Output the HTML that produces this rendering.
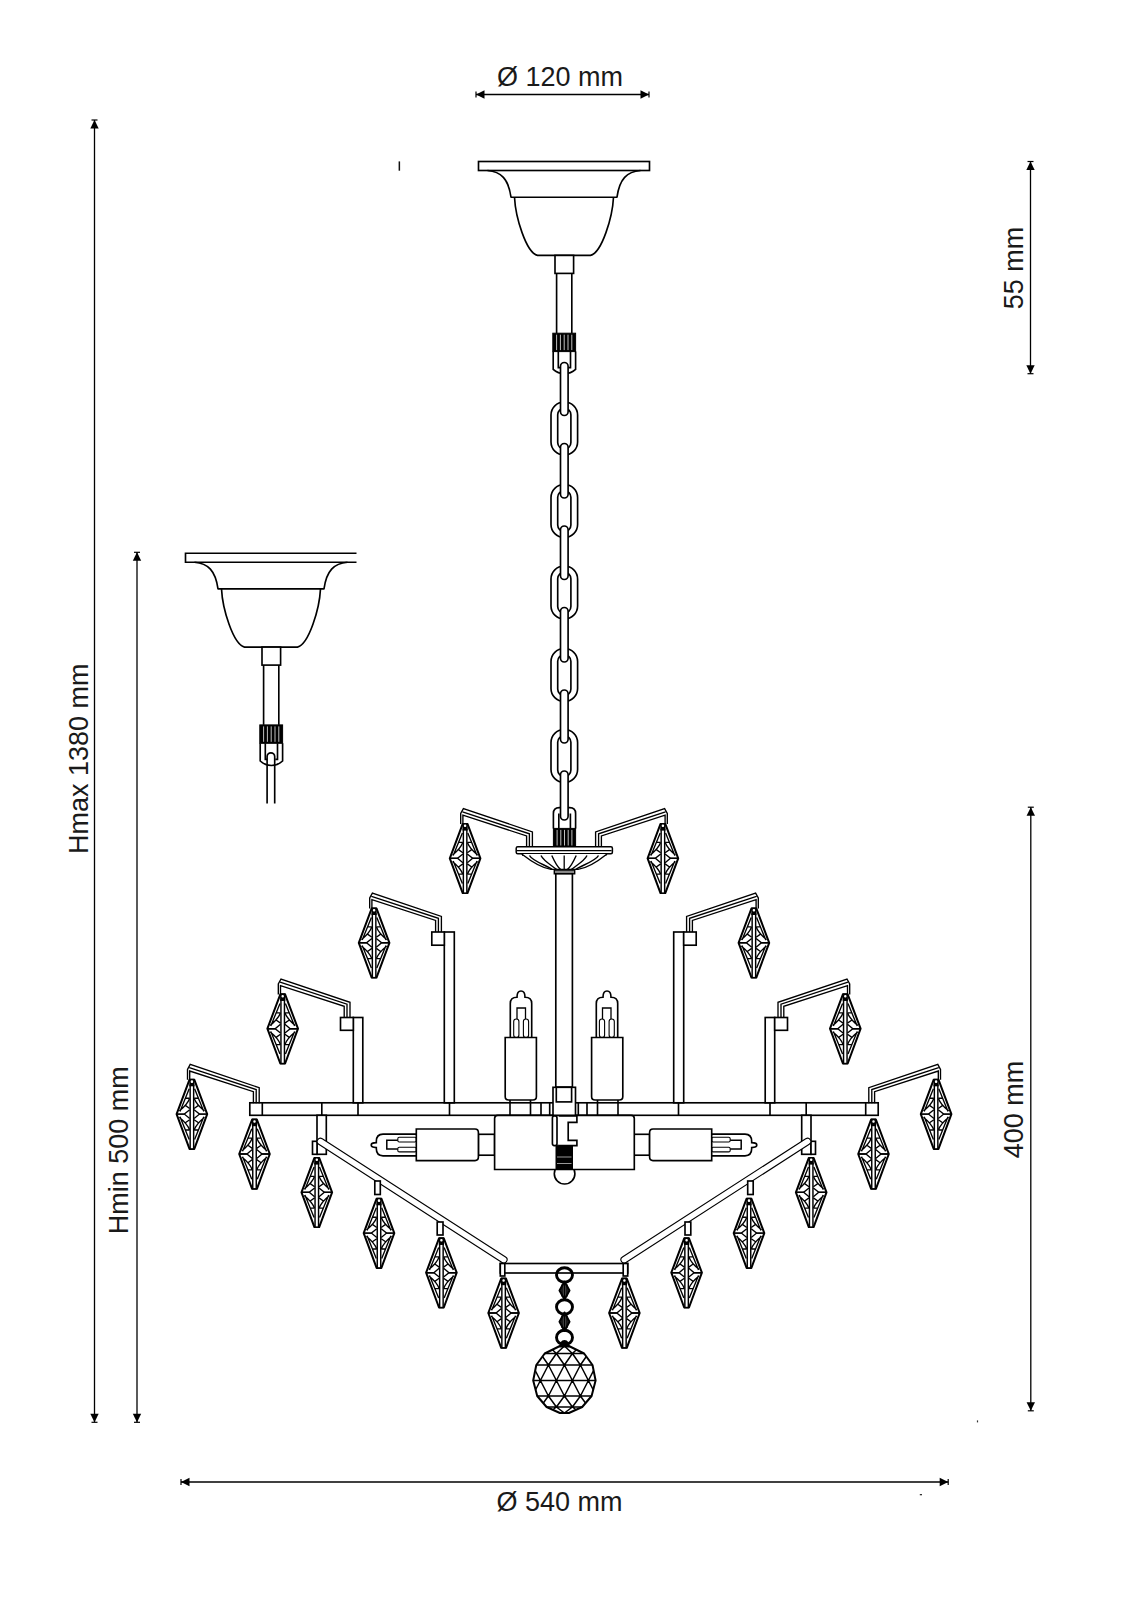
<!DOCTYPE html>
<html><head><meta charset="utf-8"><style>html,body{margin:0;padding:0;background:#fff;}svg{display:block;}</style></head>
<body><svg width="1131" height="1600" viewBox="0 0 1131 1600">
<defs><g id="pend"><path d="M-2.4,0.9 L2.4,0.9 L15.3,35.3 L2.4,70.1 L-2.4,70.1 L-15.3,35.3 Z" fill="#fff" stroke="#000" stroke-width="2.0" stroke-linejoin="round"/><path d="M-2.7,10.0 L-11.9,32.6 M-6.9,19.4 L-2.2,19.4 M-2.3,19.6 Q-4.5,25.5 -12.6,32.2 M-6.6,26.6 L-2.2,29.7 M-14.8,35.3 L-7.6,35.3 L-2.2,30.9" fill="none" stroke="#000" stroke-width="1.35"/><path d="M-2.7,10.0 L-11.9,32.6 M-6.9,19.4 L-2.2,19.4 M-2.3,19.6 Q-4.5,25.5 -12.6,32.2 M-6.6,26.6 L-2.2,29.7 M-14.8,35.3 L-7.6,35.3 L-2.2,30.9" fill="none" stroke="#000" stroke-width="1.35" transform="scale(-1,1)"/><path d="M-2.7,10.0 L-11.9,32.6 M-6.9,19.4 L-2.2,19.4 M-2.3,19.6 Q-4.5,25.5 -12.6,32.2 M-6.6,26.6 L-2.2,29.7 M-14.8,35.3 L-7.6,35.3 L-2.2,30.9" fill="none" stroke="#000" stroke-width="1.35" transform="translate(0,70.6) scale(1,-1)"/><path d="M-2.7,10.0 L-11.9,32.6 M-6.9,19.4 L-2.2,19.4 M-2.3,19.6 Q-4.5,25.5 -12.6,32.2 M-6.6,26.6 L-2.2,29.7 M-14.8,35.3 L-7.6,35.3 L-2.2,30.9" fill="none" stroke="#000" stroke-width="1.35" transform="translate(0,70.6) scale(-1,-1)"/><rect x="-1.75" y="6.5" width="3.5" height="63.6" fill="#fff" stroke="#000" stroke-width="1.45"/><rect x="-2.6" y="0" width="5.2" height="7.5" fill="#000"/><rect x="-1.2" y="1.5" width="2.4" height="2.6" rx="1" fill="#fff"/></g></defs>
<rect width="1131" height="1600" fill="#fff"/>
<line x1="476.00" y1="94.50" x2="649.00" y2="94.50" stroke="#000" stroke-width="1.30"/><path d="M476.0,94.5 L484.5,90.3 L484.5,98.7 Z" fill="#000"/><line x1="476.00" y1="91.50" x2="476.00" y2="97.50" stroke="#000" stroke-width="1.20"/><path d="M649.0,94.5 L640.5,90.3 L640.5,98.7 Z" fill="#000"/><line x1="649.00" y1="91.50" x2="649.00" y2="97.50" stroke="#000" stroke-width="1.20"/><line x1="94.50" y1="120.00" x2="94.50" y2="1422.30" stroke="#000" stroke-width="1.30"/><path d="M94.5,120.0 L90.3,128.5 L98.7,128.5 Z" fill="#000"/><line x1="91.50" y1="120.00" x2="97.50" y2="120.00" stroke="#000" stroke-width="1.20"/><path d="M94.5,1422.3 L90.3,1413.8 L98.7,1413.8 Z" fill="#000"/><line x1="91.50" y1="1422.30" x2="97.50" y2="1422.30" stroke="#000" stroke-width="1.20"/><line x1="137.00" y1="552.30" x2="137.00" y2="1422.30" stroke="#000" stroke-width="1.30"/><path d="M137.0,552.3 L132.8,560.8 L141.2,560.8 Z" fill="#000"/><line x1="134.00" y1="552.30" x2="140.00" y2="552.30" stroke="#000" stroke-width="1.20"/><path d="M137.0,1422.3 L132.8,1413.8 L141.2,1413.8 Z" fill="#000"/><line x1="134.00" y1="1422.30" x2="140.00" y2="1422.30" stroke="#000" stroke-width="1.20"/><line x1="1030.50" y1="161.50" x2="1030.50" y2="373.70" stroke="#000" stroke-width="1.30"/><path d="M1030.5,161.5 L1026.3,170.0 L1034.7,170.0 Z" fill="#000"/><line x1="1027.50" y1="161.50" x2="1033.50" y2="161.50" stroke="#000" stroke-width="1.20"/><path d="M1030.5,373.7 L1026.3,365.2 L1034.7,365.2 Z" fill="#000"/><line x1="1027.50" y1="373.70" x2="1033.50" y2="373.70" stroke="#000" stroke-width="1.20"/><line x1="1030.80" y1="807.20" x2="1030.80" y2="1410.80" stroke="#000" stroke-width="1.30"/><path d="M1030.8,807.2 L1026.6,815.7 L1035.0,815.7 Z" fill="#000"/><line x1="1027.80" y1="807.20" x2="1033.80" y2="807.20" stroke="#000" stroke-width="1.20"/><path d="M1030.8,1410.8 L1026.6,1402.3 L1035.0,1402.3 Z" fill="#000"/><line x1="1027.80" y1="1410.80" x2="1033.80" y2="1410.80" stroke="#000" stroke-width="1.20"/><line x1="181.00" y1="1482.00" x2="948.20" y2="1482.00" stroke="#000" stroke-width="1.30"/><path d="M181.0,1482.0 L189.5,1477.8 L189.5,1486.2 Z" fill="#000"/><line x1="181.00" y1="1479.00" x2="181.00" y2="1485.00" stroke="#000" stroke-width="1.20"/><path d="M948.2,1482.0 L939.7,1477.8 L939.7,1486.2 Z" fill="#000"/><line x1="948.20" y1="1479.00" x2="948.20" y2="1485.00" stroke="#000" stroke-width="1.20"/><text x="560" y="86.2" text-anchor="middle" font-family="Liberation Sans, sans-serif" font-size="27" fill="#1a1a1a">Ø 120 mm</text><text x="559.5" y="1510.5" text-anchor="middle" font-family="Liberation Sans, sans-serif" font-size="27" fill="#1a1a1a">Ø 540 mm</text><text transform="translate(87.8,758.8) rotate(-90)" text-anchor="middle" font-family="Liberation Sans, sans-serif" font-size="27" fill="#1a1a1a">Hmax 1380 mm</text><text transform="translate(127.8,1150.3) rotate(-90)" text-anchor="middle" font-family="Liberation Sans, sans-serif" font-size="27" fill="#1a1a1a">Hmin 500 mm</text><text transform="translate(1022.6,268) rotate(-90)" text-anchor="middle" font-family="Liberation Sans, sans-serif" font-size="27" fill="#1a1a1a">55 mm</text><text transform="translate(1023,1109.6) rotate(-90)" text-anchor="middle" font-family="Liberation Sans, sans-serif" font-size="27" fill="#1a1a1a">400 mm</text><rect x="398.6" y="161.4" width="1.5" height="9.3" fill="#111"/><rect x="976.9" y="1420.4" width="1.2" height="2" fill="#333"/><rect x="919.8" y="1494.0" width="2.2" height="1.3" fill="#333"/>
<g transform="translate(-293,391.7)"><path d="M649.5,161.5 L478.5,161.5 L478.5,170.5 L649.5,170.5" fill="none" stroke="#000" stroke-width="1.65"/><path d="M487.5,170.5 C501,171.5 508.5,179 511,197.2 M640.5,170.5 C627,171.5 619.5,179 617,197.2 M510.5,197.2 L617.5,197.2" fill="none" stroke="#000" stroke-width="1.65"/><path d="M514.5,197.2 C515.5,217 526,252.5 537.5,255.4 L590.5,255.4 C602,252.5 612.5,217 613.5,197.2" fill="none" stroke="#000" stroke-width="1.65"/><rect x="555.00" y="255.40" width="18.60" height="18.00" rx="0.0" fill="#fff" stroke="#000" stroke-width="1.65"/><line x1="556.60" y1="273.40" x2="556.60" y2="333.20" stroke="#000" stroke-width="1.65"/><line x1="571.80" y1="273.40" x2="571.80" y2="333.20" stroke="#000" stroke-width="1.65"/><rect x="552.80" y="333.20" width="22.80" height="18.40" rx="0.0" fill="#000" stroke="#000" stroke-width="1.00"/><line x1="556.60" y1="334.70" x2="556.60" y2="350.10" stroke="#fff" stroke-width="0.75"/><line x1="560.40" y1="334.70" x2="560.40" y2="350.10" stroke="#fff" stroke-width="0.75"/><line x1="564.20" y1="334.70" x2="564.20" y2="350.10" stroke="#fff" stroke-width="0.75"/><line x1="568.00" y1="334.70" x2="568.00" y2="350.10" stroke="#fff" stroke-width="0.75"/><line x1="571.80" y1="334.70" x2="571.80" y2="350.10" stroke="#fff" stroke-width="0.75"/><path d="M553.2,351.6 L553.2,369.3 Q558,373.6 564.4,373.8 Q570.8,373.6 575.6,369.3 L575.6,351.6" fill="none" stroke="#000" stroke-width="1.65"/><path d="M558.3,351.6 L558.3,367.6 L560.5,367.6 M570.5,351.6 L570.5,367.6 L568.3,367.6" fill="none" stroke="#000" stroke-width="1.65"/></g><path d="M267.1,803.5 L267.1,756.6 A3.8,3.8 0 0 1 274.7,756.6 L274.7,803.5" fill="none" stroke="#000" stroke-width="1.65"/>
<rect x="478.50" y="161.50" width="171.00" height="9.00" rx="0.0" fill="#fff" stroke="#000" stroke-width="1.65"/><path d="M487.5,170.5 C501,171.5 508.5,179 511,197.2 M640.5,170.5 C627,171.5 619.5,179 617,197.2 M510.5,197.2 L617.5,197.2" fill="none" stroke="#000" stroke-width="1.65"/><path d="M514.5,197.2 C515.5,217 526,252.5 537.5,255.4 L590.5,255.4 C602,252.5 612.5,217 613.5,197.2" fill="none" stroke="#000" stroke-width="1.65"/><rect x="555.00" y="255.40" width="18.60" height="18.00" rx="0.0" fill="#fff" stroke="#000" stroke-width="1.65"/><line x1="556.60" y1="273.40" x2="556.60" y2="333.20" stroke="#000" stroke-width="1.65"/><line x1="571.80" y1="273.40" x2="571.80" y2="333.20" stroke="#000" stroke-width="1.65"/><rect x="552.80" y="333.20" width="22.80" height="18.40" rx="0.0" fill="#000" stroke="#000" stroke-width="1.00"/><line x1="556.60" y1="334.70" x2="556.60" y2="350.10" stroke="#fff" stroke-width="0.75"/><line x1="560.40" y1="334.70" x2="560.40" y2="350.10" stroke="#fff" stroke-width="0.75"/><line x1="564.20" y1="334.70" x2="564.20" y2="350.10" stroke="#fff" stroke-width="0.75"/><line x1="568.00" y1="334.70" x2="568.00" y2="350.10" stroke="#fff" stroke-width="0.75"/><line x1="571.80" y1="334.70" x2="571.80" y2="350.10" stroke="#fff" stroke-width="0.75"/><path d="M553.2,351.6 L553.2,369.3 Q558,373.6 564.4,373.8 Q570.8,373.6 575.6,369.3 L575.6,351.6" fill="none" stroke="#000" stroke-width="1.65"/><path d="M558.3,351.6 L558.3,367.6 L560.5,367.6 M570.5,351.6 L570.5,367.6 L568.3,367.6" fill="none" stroke="#000" stroke-width="1.65"/>
<path d="M553.4,828.4 L553.4,813.5 Q553.4,807.6 559.3,807.6 L569.7,807.6 Q575.6,807.6 575.6,813.5 L575.6,828.4" fill="#fff" stroke="#000" stroke-width="1.65"/><line x1="558.80" y1="813.50" x2="558.80" y2="828.40" stroke="#000" stroke-width="1.65"/><line x1="570.40" y1="813.50" x2="570.40" y2="828.40" stroke="#000" stroke-width="1.65"/>
<rect x="551.00" y="402.00" width="26.6" height="53" rx="13" fill="#fff" stroke="#000" stroke-width="1.65"/><rect x="557.70" y="408.20" width="13.2" height="41" rx="6.6" fill="#fff" stroke="#000" stroke-width="1.65"/><rect x="551.00" y="484.50" width="26.6" height="53" rx="13" fill="#fff" stroke="#000" stroke-width="1.65"/><rect x="557.70" y="490.70" width="13.2" height="41" rx="6.6" fill="#fff" stroke="#000" stroke-width="1.65"/><rect x="551.00" y="566.00" width="26.6" height="53" rx="13" fill="#fff" stroke="#000" stroke-width="1.65"/><rect x="557.70" y="572.20" width="13.2" height="41" rx="6.6" fill="#fff" stroke="#000" stroke-width="1.65"/><rect x="551.00" y="648.50" width="26.6" height="53" rx="13" fill="#fff" stroke="#000" stroke-width="1.65"/><rect x="557.70" y="654.70" width="13.2" height="41" rx="6.6" fill="#fff" stroke="#000" stroke-width="1.65"/><rect x="551.00" y="729.50" width="26.6" height="53" rx="13" fill="#fff" stroke="#000" stroke-width="1.65"/><rect x="557.70" y="735.70" width="13.2" height="41" rx="6.6" fill="#fff" stroke="#000" stroke-width="1.65"/><rect x="560.50" y="362.50" width="7.60" height="53.00" rx="3.80" fill="#fff" stroke="#000" stroke-width="1.65"/><rect x="560.50" y="443.50" width="7.60" height="54.50" rx="3.80" fill="#fff" stroke="#000" stroke-width="1.65"/><rect x="560.50" y="526.00" width="7.60" height="53.50" rx="3.80" fill="#fff" stroke="#000" stroke-width="1.65"/><rect x="560.50" y="607.50" width="7.60" height="54.50" rx="3.80" fill="#fff" stroke="#000" stroke-width="1.65"/><rect x="560.50" y="690.00" width="7.60" height="53.00" rx="3.80" fill="#fff" stroke="#000" stroke-width="1.65"/><rect x="560.50" y="771.00" width="7.60" height="49.00" rx="3.80" fill="#fff" stroke="#000" stroke-width="1.65"/>
<rect x="249.80" y="1102.80" width="628.40" height="12.50" rx="0.0" fill="#fff" stroke="#000" stroke-width="1.65"/><line x1="262.30" y1="1102.80" x2="262.30" y2="1115.30" stroke="#000" stroke-width="1.65"/><line x1="865.70" y1="1102.80" x2="865.70" y2="1115.30" stroke="#000" stroke-width="1.65"/><line x1="321.80" y1="1102.80" x2="321.80" y2="1115.30" stroke="#000" stroke-width="1.65"/><line x1="806.20" y1="1102.80" x2="806.20" y2="1115.30" stroke="#000" stroke-width="1.65"/><line x1="358.00" y1="1102.80" x2="358.00" y2="1115.30" stroke="#000" stroke-width="1.65"/><line x1="770.00" y1="1102.80" x2="770.00" y2="1115.30" stroke="#000" stroke-width="1.65"/><line x1="449.50" y1="1102.80" x2="449.50" y2="1115.30" stroke="#000" stroke-width="1.65"/><line x1="678.50" y1="1102.80" x2="678.50" y2="1115.30" stroke="#000" stroke-width="1.65"/>
<path d="M532.4,847.5 L532.4,831.9 L463.4,808.6 L460.7,813.5 L460.7,824.0 M529.4,847.5 L529.4,833.8 L462.5,811.8 M526.6,847.5 L526.6,835.9 L462.9,815.2 L462.9,824.0" fill="none" stroke="#000" stroke-width="1.35" stroke-linejoin="miter"/><use href="#pend" x="465.1" y="823.0"/><path d="M441.4,932.0 L441.4,916.4 L372.4,893.1 L369.7,898.0 L369.7,908.5 M438.4,932.0 L438.4,918.3 L371.5,896.3 M435.6,932.0 L435.6,920.4 L371.9,899.7 L371.9,908.5" fill="none" stroke="#000" stroke-width="1.35" stroke-linejoin="miter"/><use href="#pend" x="374.1" y="907.5"/><path d="M350.0,1017.9 L350.0,1002.3 L281.0,979.0 L278.3,983.9 L278.3,994.4 M347.0,1017.9 L347.0,1004.2 L280.1,982.2 M344.2,1017.9 L344.2,1006.3 L280.5,985.6 L280.5,994.4" fill="none" stroke="#000" stroke-width="1.35" stroke-linejoin="miter"/><use href="#pend" x="282.7" y="993.4"/><path d="M259.2,1103.3 L259.2,1087.7 L190.2,1064.4 L187.5,1069.3 L187.5,1079.8 M256.2,1103.3 L256.2,1089.6 L189.3,1067.6 M253.4,1103.3 L253.4,1091.7 L189.7,1071.0 L189.7,1079.8" fill="none" stroke="#000" stroke-width="1.35" stroke-linejoin="miter"/><use href="#pend" x="191.9" y="1078.8"/><rect x="444.30" y="932.00" width="10.00" height="170.80" rx="0.0" fill="#fff" stroke="#000" stroke-width="1.65"/><rect x="431.80" y="932.00" width="12.50" height="13.20" rx="0.0" fill="#fff" stroke="#000" stroke-width="1.65"/><rect x="353.30" y="1017.50" width="9.50" height="85.30" rx="0.0" fill="#fff" stroke="#000" stroke-width="1.65"/><rect x="340.50" y="1017.50" width="12.80" height="12.80" rx="0.0" fill="#fff" stroke="#000" stroke-width="1.65"/><rect x="317.00" y="1115.30" width="9.30" height="39.00" rx="0.0" fill="#fff" stroke="#000" stroke-width="1.65"/><rect x="312.50" y="1141.30" width="4.50" height="13.00" rx="0.0" fill="#fff" stroke="#000" stroke-width="1.65"/><line x1="320.5" y1="1141.5" x2="503.8" y2="1259.8" stroke="#000" stroke-width="7.6" stroke-linecap="round"/><line x1="320.5" y1="1141.5" x2="503.8" y2="1259.8" stroke="#fff" stroke-width="5.4" stroke-linecap="round"/><rect x="374.80" y="1181.00" width="5.50" height="13.50" rx="0.0" fill="#fff" stroke="#000" stroke-width="1.65"/><rect x="437.20" y="1222.00" width="5.80" height="13.00" rx="0.0" fill="#fff" stroke="#000" stroke-width="1.65"/><use href="#pend" x="254.5" y="1118.7"/><use href="#pend" x="316.8" y="1157.0"/><use href="#pend" x="379.0" y="1197.8"/><use href="#pend" x="441.4" y="1237.4"/><use href="#pend" x="503.6" y="1277.7"/><path d="M510.3,1037.5 L510.3,1003.5 Q510.3,997.2 517,997.2 Q517,991 521,991 Q525,991 525,997.2 Q531.7,997.2 531.7,1003.5 L531.7,1037.5" fill="#fff" stroke="#000" stroke-width="1.65"/><path d="M517,1019 L517,1008 L525.5,1008 L525.5,1019" fill="none" stroke="#000" stroke-width="1.30"/><rect x="513.7" y="1019" width="5.2" height="18.5" rx="2.6" fill="#fff" stroke="#000" stroke-width="1.1"/><rect x="523.4" y="1019" width="5.2" height="18.5" rx="2.6" fill="#fff" stroke="#000" stroke-width="1.1"/><path d="M505.2,1037.5 L536.4,1037.5 L536.4,1096.5 Q536.4,1100 533,1100 L508.6,1100 Q505.2,1100 505.2,1096.5 Z" fill="#fff" stroke="#000" stroke-width="1.65"/><line x1="510.00" y1="1100.00" x2="510.00" y2="1118.00" stroke="#000" stroke-width="1.60"/><line x1="530.50" y1="1100.00" x2="530.50" y2="1115.30" stroke="#000" stroke-width="1.65"/><line x1="541.00" y1="1102.80" x2="541.00" y2="1118.00" stroke="#000" stroke-width="1.65"/><line x1="549.70" y1="1102.80" x2="549.70" y2="1115.30" stroke="#000" stroke-width="1.65"/><path d="M416.3,1134.1 L383,1134.1 Q376.3,1134.1 376.3,1141.5 L376.3,1142.6 Q371.2,1142.6 371.2,1145.1 Q371.2,1147.6 376.3,1147.6 L376.3,1148.6 Q376.3,1155.8 383,1155.8 L416.3,1155.8" fill="#fff" stroke="#000" stroke-width="1.65"/><rect x="397.8" y="1137.3" width="18.5" height="4.7" rx="1.5" fill="#fff" stroke="#000" stroke-width="1.1"/><rect x="397.8" y="1147.2" width="18.5" height="4.7" rx="1.5" fill="#fff" stroke="#000" stroke-width="1.1"/><path d="M397.8,1140.3 L386.8,1140.3 L386.8,1149 L397.8,1149" fill="none" stroke="#000" stroke-width="1.50"/><rect x="478.40" y="1134.30" width="16.20" height="20.90" rx="0.0" fill="#fff" stroke="#000" stroke-width="1.65"/><path d="M416.3,1129 L475,1129 Q478.4,1129 478.4,1132.5 L478.4,1157.1 Q478.4,1160.6 475,1160.6 L416.3,1160.6 Z" fill="#fff" stroke="#000" stroke-width="1.65"/>
<g transform="translate(1128,0) scale(-1,1)"><path d="M532.4,847.5 L532.4,831.9 L463.4,808.6 L460.7,813.5 L460.7,824.0 M529.4,847.5 L529.4,833.8 L462.5,811.8 M526.6,847.5 L526.6,835.9 L462.9,815.2 L462.9,824.0" fill="none" stroke="#000" stroke-width="1.35" stroke-linejoin="miter"/><use href="#pend" x="465.1" y="823.0"/><path d="M441.4,932.0 L441.4,916.4 L372.4,893.1 L369.7,898.0 L369.7,908.5 M438.4,932.0 L438.4,918.3 L371.5,896.3 M435.6,932.0 L435.6,920.4 L371.9,899.7 L371.9,908.5" fill="none" stroke="#000" stroke-width="1.35" stroke-linejoin="miter"/><use href="#pend" x="374.1" y="907.5"/><path d="M350.0,1017.9 L350.0,1002.3 L281.0,979.0 L278.3,983.9 L278.3,994.4 M347.0,1017.9 L347.0,1004.2 L280.1,982.2 M344.2,1017.9 L344.2,1006.3 L280.5,985.6 L280.5,994.4" fill="none" stroke="#000" stroke-width="1.35" stroke-linejoin="miter"/><use href="#pend" x="282.7" y="993.4"/><path d="M259.2,1103.3 L259.2,1087.7 L190.2,1064.4 L187.5,1069.3 L187.5,1079.8 M256.2,1103.3 L256.2,1089.6 L189.3,1067.6 M253.4,1103.3 L253.4,1091.7 L189.7,1071.0 L189.7,1079.8" fill="none" stroke="#000" stroke-width="1.35" stroke-linejoin="miter"/><use href="#pend" x="191.9" y="1078.8"/><rect x="444.30" y="932.00" width="10.00" height="170.80" rx="0.0" fill="#fff" stroke="#000" stroke-width="1.65"/><rect x="431.80" y="932.00" width="12.50" height="13.20" rx="0.0" fill="#fff" stroke="#000" stroke-width="1.65"/><rect x="353.30" y="1017.50" width="9.50" height="85.30" rx="0.0" fill="#fff" stroke="#000" stroke-width="1.65"/><rect x="340.50" y="1017.50" width="12.80" height="12.80" rx="0.0" fill="#fff" stroke="#000" stroke-width="1.65"/><rect x="317.00" y="1115.30" width="9.30" height="39.00" rx="0.0" fill="#fff" stroke="#000" stroke-width="1.65"/><rect x="312.50" y="1141.30" width="4.50" height="13.00" rx="0.0" fill="#fff" stroke="#000" stroke-width="1.65"/><line x1="320.5" y1="1141.5" x2="503.8" y2="1259.8" stroke="#000" stroke-width="7.6" stroke-linecap="round"/><line x1="320.5" y1="1141.5" x2="503.8" y2="1259.8" stroke="#fff" stroke-width="5.4" stroke-linecap="round"/><rect x="374.80" y="1181.00" width="5.50" height="13.50" rx="0.0" fill="#fff" stroke="#000" stroke-width="1.65"/><rect x="437.20" y="1222.00" width="5.80" height="13.00" rx="0.0" fill="#fff" stroke="#000" stroke-width="1.65"/><use href="#pend" x="254.5" y="1118.7"/><use href="#pend" x="316.8" y="1157.0"/><use href="#pend" x="379.0" y="1197.8"/><use href="#pend" x="441.4" y="1237.4"/><use href="#pend" x="503.6" y="1277.7"/><path d="M510.3,1037.5 L510.3,1003.5 Q510.3,997.2 517,997.2 Q517,991 521,991 Q525,991 525,997.2 Q531.7,997.2 531.7,1003.5 L531.7,1037.5" fill="#fff" stroke="#000" stroke-width="1.65"/><path d="M517,1019 L517,1008 L525.5,1008 L525.5,1019" fill="none" stroke="#000" stroke-width="1.30"/><rect x="513.7" y="1019" width="5.2" height="18.5" rx="2.6" fill="#fff" stroke="#000" stroke-width="1.1"/><rect x="523.4" y="1019" width="5.2" height="18.5" rx="2.6" fill="#fff" stroke="#000" stroke-width="1.1"/><path d="M505.2,1037.5 L536.4,1037.5 L536.4,1096.5 Q536.4,1100 533,1100 L508.6,1100 Q505.2,1100 505.2,1096.5 Z" fill="#fff" stroke="#000" stroke-width="1.65"/><line x1="510.00" y1="1100.00" x2="510.00" y2="1118.00" stroke="#000" stroke-width="1.60"/><line x1="530.50" y1="1100.00" x2="530.50" y2="1115.30" stroke="#000" stroke-width="1.65"/><line x1="541.00" y1="1102.80" x2="541.00" y2="1118.00" stroke="#000" stroke-width="1.65"/><line x1="549.70" y1="1102.80" x2="549.70" y2="1115.30" stroke="#000" stroke-width="1.65"/><path d="M416.3,1134.1 L383,1134.1 Q376.3,1134.1 376.3,1141.5 L376.3,1142.6 Q371.2,1142.6 371.2,1145.1 Q371.2,1147.6 376.3,1147.6 L376.3,1148.6 Q376.3,1155.8 383,1155.8 L416.3,1155.8" fill="#fff" stroke="#000" stroke-width="1.65"/><rect x="397.8" y="1137.3" width="18.5" height="4.7" rx="1.5" fill="#fff" stroke="#000" stroke-width="1.1"/><rect x="397.8" y="1147.2" width="18.5" height="4.7" rx="1.5" fill="#fff" stroke="#000" stroke-width="1.1"/><path d="M397.8,1140.3 L386.8,1140.3 L386.8,1149 L397.8,1149" fill="none" stroke="#000" stroke-width="1.50"/><rect x="478.40" y="1134.30" width="16.20" height="20.90" rx="0.0" fill="#fff" stroke="#000" stroke-width="1.65"/><path d="M416.3,1129 L475,1129 Q478.4,1129 478.4,1132.5 L478.4,1157.1 Q478.4,1160.6 475,1160.6 L416.3,1160.6 Z" fill="#fff" stroke="#000" stroke-width="1.65"/></g>
<rect x="553.40" y="828.40" width="22.20" height="18.60" rx="0.0" fill="#000" stroke="#000" stroke-width="1.00"/><line x1="557.10" y1="829.90" x2="557.10" y2="845.50" stroke="#fff" stroke-width="0.75"/><line x1="560.80" y1="829.90" x2="560.80" y2="845.50" stroke="#fff" stroke-width="0.75"/><line x1="564.50" y1="829.90" x2="564.50" y2="845.50" stroke="#fff" stroke-width="0.75"/><line x1="568.20" y1="829.90" x2="568.20" y2="845.50" stroke="#fff" stroke-width="0.75"/><line x1="571.90" y1="829.90" x2="571.90" y2="845.50" stroke="#fff" stroke-width="0.75"/><rect x="516.2" y="846.8" width="96.2" height="6.9" rx="1.5" fill="#fff" stroke="#000" stroke-width="1.5"/><line x1="517.00" y1="850.60" x2="611.60" y2="850.60" stroke="#000" stroke-width="1.20"/><line x1="522.00" y1="855.30" x2="606.50" y2="855.30" stroke="#000" stroke-width="1.00"/><path d="M521.7,854 C532,862 541,868 551,869.4 L578,869.4 C588,868 597,862 607,854" fill="#fff" stroke="#000" stroke-width="1.40"/><path d="M529.5,855.5 C532.0,861 548.0,866 552.0,869.4" fill="none" stroke="#000" stroke-width="1.40"/><path d="M598.5,855.5 C596.0,861 580.0,866 576.0,869.4" fill="none" stroke="#000" stroke-width="1.40"/><path d="M541.0,855.5 C543.5,861 552.5,866 556.5,869.4" fill="none" stroke="#000" stroke-width="1.40"/><path d="M587.0,855.5 C584.5,861 575.5,866 571.5,869.4" fill="none" stroke="#000" stroke-width="1.40"/><path d="M551.8,855.5 C554.3,861 556.5,866 560.5,869.4" fill="none" stroke="#000" stroke-width="1.40"/><path d="M576.2,855.5 C573.7,861 571.5,866 567.5,869.4" fill="none" stroke="#000" stroke-width="1.40"/><path d="M564.2,855.5 L564.2,869.4" fill="none" stroke="#000" stroke-width="1.30"/><rect x="554.30" y="870.00" width="20.40" height="3.80" rx="0.0" fill="#888" stroke="#000" stroke-width="1.40"/><rect x="555.80" y="873.80" width="16.60" height="213.50" rx="0.0" fill="#fff" stroke="#000" stroke-width="1.65"/>
<circle cx="564.6" cy="1173.7" r="10.3" fill="#fff" stroke="#000" stroke-width="1.65"/><path d="M494.6,1169.5 L494.6,1118.5 Q494.6,1115.3 497.8,1115.3 L631.1,1115.3 Q634.3,1115.3 634.3,1118.5 L634.3,1169.5 Z" fill="#fff" stroke="#000" stroke-width="1.65"/><rect x="556.00" y="1145.20" width="16.50" height="24.30" rx="0.0" fill="#000" stroke="#000" stroke-width="1.00"/><line x1="557" y1="1157" x2="571.5" y2="1157" stroke="#fff" stroke-width="0.6"/><line x1="557" y1="1163.5" x2="571.5" y2="1163.5" stroke="#fff" stroke-width="0.6"/><rect x="552.4" y="1116" width="4.6" height="29.6" rx="2" fill="#fff" stroke="#000" stroke-width="1.65"/><path d="M559,1116 L576.9,1116 L576.9,1122.4 L568.2,1122.4 L568.2,1140.3 L576.9,1140.3 L576.9,1145.6 L559,1145.6" fill="#fff" stroke="#000" stroke-width="1.65"/><rect x="553.00" y="1087.30" width="22.50" height="28.00" rx="0.0" fill="#fff" stroke="#000" stroke-width="1.65"/><rect x="556.30" y="1087.30" width="15.30" height="14.60" rx="0.0" fill="#fff" stroke="#000" stroke-width="1.65"/>
<rect x="500.30" y="1263.50" width="127.40" height="9.50" rx="0.0" fill="#fff" stroke="#000" stroke-width="1.65"/><rect x="500.30" y="1263.50" width="4.50" height="12.50" rx="0.0" fill="#fff" stroke="#000" stroke-width="1.65"/><rect x="623.20" y="1263.50" width="4.50" height="12.50" rx="0.0" fill="#fff" stroke="#000" stroke-width="1.65"/><path d="M564.5,1281.5 L569.5,1290.5 L564.5,1299.5 L559.5,1290.5 Z" fill="#444" stroke="#000" stroke-width="2.0" stroke-linejoin="round"/><path d="M564.5,1281.5 L564.5,1299.5 M562.0,1284.5 L562.0,1290.5 L562.0,1296.5 M567.0,1284.5 L567.0,1290.5 L567.0,1296.5" fill="none" stroke="#000" stroke-width="1.2"/><path d="M564.5,1312.5 L569.5,1321.8 L564.5,1331.0 L559.5,1321.8 Z" fill="#444" stroke="#000" stroke-width="2.0" stroke-linejoin="round"/><path d="M564.5,1312.5 L564.5,1331.0 M562.0,1315.5 L562.0,1321.8 L562.0,1328.0 M567.0,1315.5 L567.0,1321.8 L567.0,1328.0" fill="none" stroke="#000" stroke-width="1.2"/><ellipse cx="564.5" cy="1275.0" rx="8.0" ry="7.2" fill="none" stroke="#000" stroke-width="2.9"/><ellipse cx="564.5" cy="1307.0" rx="8.0" ry="7.2" fill="none" stroke="#000" stroke-width="2.9"/><ellipse cx="564.5" cy="1337.5" rx="8.0" ry="7.2" fill="none" stroke="#000" stroke-width="2.9"/><clipPath id="ballclip"><polygon points="568.9,1346.0 584.1,1353.5 592.5,1365.0 595.6,1380.5 591.6,1396.0 582.2,1407.0 568.9,1413.0 559.9,1413.0 546.6,1407.0 537.2,1396.0 533.2,1380.5 536.3,1365.0 544.7,1353.5 559.9,1346.0"/></clipPath><polygon points="568.9,1346.0 584.1,1353.5 592.5,1365.0 595.6,1380.5 591.6,1396.0 582.2,1407.0 568.9,1413.0 559.9,1413.0 546.6,1407.0 537.2,1396.0 533.2,1380.5 536.3,1365.0 544.7,1353.5 559.9,1346.0" fill="#fff" stroke="none"/><path d="M524.4,1353.5 L604.4,1353.5 M524.4,1365.0 L604.4,1365.0 M524.4,1380.5 L604.4,1380.5 M524.4,1396.0 L604.4,1396.0 M524.4,1407.0 L604.4,1407.0 M500.4,1346.0 L508.4,1353.5 M500.4,1346.0 L492.4,1353.5 M516.4,1346.0 L524.4,1353.5 M516.4,1346.0 L508.4,1353.5 M532.4,1346.0 L540.4,1353.5 M532.4,1346.0 L524.4,1353.5 M548.4,1346.0 L556.4,1353.5 M548.4,1346.0 L540.4,1353.5 M564.4,1346.0 L572.4,1353.5 M564.4,1346.0 L556.4,1353.5 M580.4,1346.0 L588.4,1353.5 M580.4,1346.0 L572.4,1353.5 M596.4,1346.0 L604.4,1353.5 M596.4,1346.0 L588.4,1353.5 M612.4,1346.0 L620.4,1353.5 M612.4,1346.0 L604.4,1353.5 M628.4,1346.0 L636.4,1353.5 M628.4,1346.0 L620.4,1353.5 M508.4,1353.5 L516.4,1365.0 M508.4,1353.5 L500.4,1365.0 M524.4,1353.5 L532.4,1365.0 M524.4,1353.5 L516.4,1365.0 M540.4,1353.5 L548.4,1365.0 M540.4,1353.5 L532.4,1365.0 M556.4,1353.5 L564.4,1365.0 M556.4,1353.5 L548.4,1365.0 M572.4,1353.5 L580.4,1365.0 M572.4,1353.5 L564.4,1365.0 M588.4,1353.5 L596.4,1365.0 M588.4,1353.5 L580.4,1365.0 M604.4,1353.5 L612.4,1365.0 M604.4,1353.5 L596.4,1365.0 M620.4,1353.5 L628.4,1365.0 M620.4,1353.5 L612.4,1365.0 M636.4,1353.5 L644.4,1365.0 M636.4,1353.5 L628.4,1365.0 M500.4,1365.0 L508.4,1380.5 M500.4,1365.0 L492.4,1380.5 M516.4,1365.0 L524.4,1380.5 M516.4,1365.0 L508.4,1380.5 M532.4,1365.0 L540.4,1380.5 M532.4,1365.0 L524.4,1380.5 M548.4,1365.0 L556.4,1380.5 M548.4,1365.0 L540.4,1380.5 M564.4,1365.0 L572.4,1380.5 M564.4,1365.0 L556.4,1380.5 M580.4,1365.0 L588.4,1380.5 M580.4,1365.0 L572.4,1380.5 M596.4,1365.0 L604.4,1380.5 M596.4,1365.0 L588.4,1380.5 M612.4,1365.0 L620.4,1380.5 M612.4,1365.0 L604.4,1380.5 M628.4,1365.0 L636.4,1380.5 M628.4,1365.0 L620.4,1380.5 M508.4,1380.5 L516.4,1396.0 M508.4,1380.5 L500.4,1396.0 M524.4,1380.5 L532.4,1396.0 M524.4,1380.5 L516.4,1396.0 M540.4,1380.5 L548.4,1396.0 M540.4,1380.5 L532.4,1396.0 M556.4,1380.5 L564.4,1396.0 M556.4,1380.5 L548.4,1396.0 M572.4,1380.5 L580.4,1396.0 M572.4,1380.5 L564.4,1396.0 M588.4,1380.5 L596.4,1396.0 M588.4,1380.5 L580.4,1396.0 M604.4,1380.5 L612.4,1396.0 M604.4,1380.5 L596.4,1396.0 M620.4,1380.5 L628.4,1396.0 M620.4,1380.5 L612.4,1396.0 M636.4,1380.5 L644.4,1396.0 M636.4,1380.5 L628.4,1396.0 M500.4,1396.0 L508.4,1407.0 M500.4,1396.0 L492.4,1407.0 M516.4,1396.0 L524.4,1407.0 M516.4,1396.0 L508.4,1407.0 M532.4,1396.0 L540.4,1407.0 M532.4,1396.0 L524.4,1407.0 M548.4,1396.0 L556.4,1407.0 M548.4,1396.0 L540.4,1407.0 M564.4,1396.0 L572.4,1407.0 M564.4,1396.0 L556.4,1407.0 M580.4,1396.0 L588.4,1407.0 M580.4,1396.0 L572.4,1407.0 M596.4,1396.0 L604.4,1407.0 M596.4,1396.0 L588.4,1407.0 M612.4,1396.0 L620.4,1407.0 M612.4,1396.0 L604.4,1407.0 M628.4,1396.0 L636.4,1407.0 M628.4,1396.0 L620.4,1407.0 M508.4,1407.0 L516.4,1413.0 M508.4,1407.0 L500.4,1413.0 M524.4,1407.0 L532.4,1413.0 M524.4,1407.0 L516.4,1413.0 M540.4,1407.0 L548.4,1413.0 M540.4,1407.0 L532.4,1413.0 M556.4,1407.0 L564.4,1413.0 M556.4,1407.0 L548.4,1413.0 M572.4,1407.0 L580.4,1413.0 M572.4,1407.0 L564.4,1413.0 M588.4,1407.0 L596.4,1413.0 M588.4,1407.0 L580.4,1413.0 M604.4,1407.0 L612.4,1413.0 M604.4,1407.0 L596.4,1413.0 M620.4,1407.0 L628.4,1413.0 M620.4,1407.0 L612.4,1413.0 M636.4,1407.0 L644.4,1413.0 M636.4,1407.0 L628.4,1413.0" fill="none" stroke="#000" stroke-width="1.5" clip-path="url(#ballclip)"/><polygon points="568.9,1346.0 584.1,1353.5 592.5,1365.0 595.6,1380.5 591.6,1396.0 582.2,1407.0 568.9,1413.0 559.9,1413.0 546.6,1407.0 537.2,1396.0 533.2,1380.5 536.3,1365.0 544.7,1353.5 559.9,1346.0" fill="none" stroke="#000" stroke-width="2.0" stroke-linejoin="round"/><path d="M559.5,1347.5 Q559.5,1340 564.5,1340 Q569.5,1340 569.5,1347.5 Z" fill="#000"/>
</svg></body></html>
